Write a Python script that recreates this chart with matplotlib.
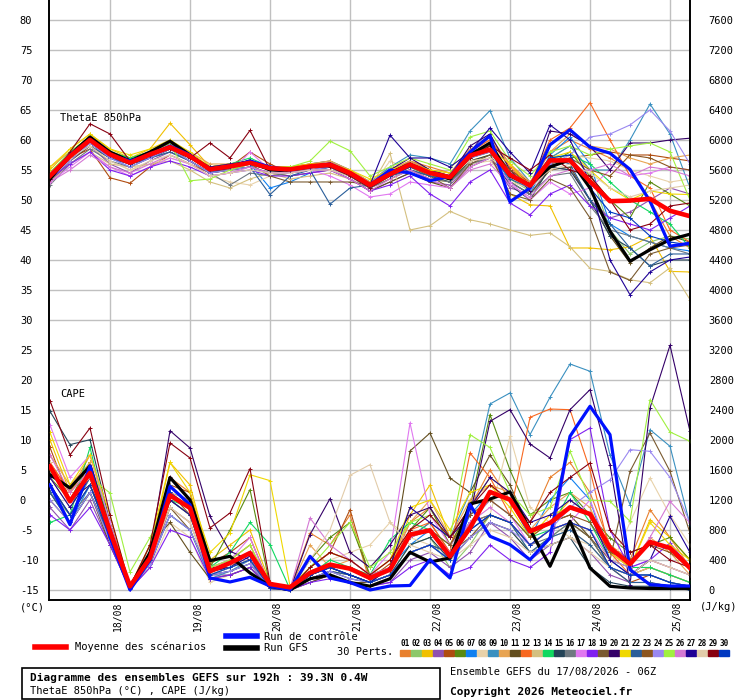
import matplotlib
matplotlib.use("Agg")
import matplotlib.pyplot as plt
import matplotlib.transforms as mtrans
from matplotlib.lines import Line2D
from matplotlib.patches import Rectangle

plt.rcParams['font.family'] = ['DejaVu Sans Mono']

# forecast hours, one point every 6h over 192h
hours = list(range(0, 193, 6))
day_hours = [18, 42, 66, 90, 114, 138, 162, 186]
day_labels = ["18/08", "19/08", "20/08", "21/08", "22/08", "23/08", "24/08", "25/08"]

pert_colors = ["#e8802e", "#8cc86a", "#f0c000", "#9050b0", "#b04c10", "#5a8a10",
               "#1080f0", "#e8d2aa", "#3a90c0", "#e8a452", "#634e1e", "#f86820",
               "#d4c080", "#10d860", "#244458", "#6e7880", "#e078f0", "#8020f0",
               "#7a5a30", "#340068", "#f0d800", "#2a5e9a", "#8c5620", "#9a88f0",
               "#a0f040", "#d478d4", "#1e0096", "#e2ccaa", "#880010", "#0038c0"]

# ThetaE 850hPa (degC)
theta_mean = [54.0, 57.3, 60.0, 57.6, 56.2, 57.6, 58.8, 57.3, 55.1, 55.6, 56.2, 55.3, 55.1, 55.6, 55.9, 54.5,
              52.5, 54.3, 55.9, 54.5, 53.8, 57.4, 58.4, 54.2, 52.4, 56.6, 56.6, 53.1, 49.8, 49.9, 50.2, 48.2, 47.3]
theta_ctrl = [54.0, 57.5, 60.0, 57.5, 56.5, 57.5, 59.0, 57.5, 55.0, 55.5, 56.5, 55.5, 55.0, 55.5, 56.0, 54.5,
              52.5, 55.0, 54.5, 53.2, 54.0, 58.0, 60.7, 49.7, 52.0, 59.2, 61.7, 58.8, 57.8, 55.1, 49.8, 42.3, 42.8]
theta_gfs = [53.5, 57.5, 60.5, 58.0, 56.5, 58.0, 59.8, 57.5, 55.0, 55.5, 56.5, 55.0, 55.0, 55.5, 56.0, 54.5,
             52.5, 54.5, 56.0, 54.5, 53.5, 57.5, 59.5, 54.0, 52.5, 55.5, 56.7, 52.0, 44.8, 39.8, 41.7, 43.4, 44.3]
theta_perts = [
    [53.5, 57.5, 59.5, 57.5, 56.5, 58.0, 59.5, 57.5, 55.5, 56.0, 56.5, 55.5, 55.0, 56.0, 56.5, 55.0, 53.0, 55.0, 56.5, 55.5, 54.5, 58.0, 60.5, 56.0, 52.5, 58.0, 60.0, 58.5, 57.0, 55.0, 50.0, 44.0, 42.0],
    [54.5, 58.0, 60.5, 58.0, 57.0, 58.0, 59.5, 57.0, 55.0, 55.0, 55.5, 54.5, 55.0, 55.5, 56.0, 54.0, 52.0, 54.0, 55.5, 54.0, 53.0, 57.0, 58.0, 53.5, 51.5, 57.0, 59.0, 55.0, 45.0, 41.0, 43.0, 44.0, 43.5],
    [55.0, 58.5, 61.0, 58.5, 57.0, 58.5, 62.8, 59.2, 55.5, 56.0, 56.5, 55.0, 55.0, 55.0, 55.5, 54.0, 52.0, 53.5, 55.0, 53.5, 53.0, 56.5, 57.5, 51.0, 49.2, 49.0, 42.0, 42.0, 41.7, 42.2, 43.9, 38.1, 38.0],
    [53.0, 56.5, 59.0, 56.0, 54.5, 56.5, 58.0, 56.5, 54.5, 55.0, 55.5, 54.5, 54.5, 55.0, 55.0, 53.5, 51.5, 53.0, 54.5, 53.0, 52.5, 56.0, 57.0, 52.0, 51.0, 55.5, 55.0, 50.0, 47.0, 48.0, 50.0, 52.0, 51.0],
    [53.5, 57.0, 58.5, 53.7, 52.8, 55.5, 57.5, 56.0, 54.5, 55.5, 58.0, 56.0, 54.5, 55.0, 55.5, 54.0, 52.0, 54.5, 56.5, 55.0, 53.5, 57.5, 58.5, 55.0, 53.0, 56.0, 57.0, 57.5, 58.0, 57.5, 57.5, 57.0, 56.5],
    [54.0, 57.5, 60.0, 57.5, 56.0, 57.5, 59.0, 57.0, 55.0, 55.5, 56.0, 55.0, 55.0, 55.5, 56.0, 54.5, 52.5, 54.0, 56.0, 54.5, 54.0, 57.5, 59.0, 54.5, 52.0, 56.0, 58.0, 54.0, 50.0, 47.0, 53.0, 51.0, 49.0],
    [53.5, 57.0, 59.5, 57.0, 55.5, 57.0, 58.5, 56.5, 54.5, 55.5, 56.0, 52.0, 53.0, 54.5, 55.5, 54.0, 52.5, 54.5, 56.0, 54.5, 53.5, 57.0, 58.5, 53.0, 51.0, 57.5, 60.5, 56.0, 46.0, 44.0, 43.0, 42.0, 41.5],
    [54.5, 57.5, 59.0, 56.5, 55.0, 56.0, 57.0, 56.0, 54.0, 53.0, 52.5, 54.0, 54.5, 55.0, 55.5, 54.0, 52.0, 56.5, 55.0, 54.0, 53.0, 56.0, 56.5, 53.0, 52.0, 55.0, 57.5, 57.0, 56.5, 55.0, 54.0, 53.0, 53.5],
    [54.0, 57.5, 60.0, 57.5, 56.0, 57.0, 58.5, 57.0, 55.0, 55.5, 56.0, 55.0, 55.5, 56.0, 56.5, 55.0, 53.0, 55.5, 57.5, 57.0, 56.0, 61.5, 64.9, 57.0, 53.0, 57.0, 59.0, 55.0, 55.0, 60.0, 66.0, 61.0, 52.0],
    [55.5, 58.0, 60.5, 58.0, 56.5, 58.0, 59.5, 58.0, 56.0, 56.0, 56.5, 55.5, 55.5, 56.0, 56.5, 55.0, 53.0, 55.0, 56.5, 55.0, 54.5, 58.5, 60.0, 56.0, 53.0, 58.0, 61.0, 59.0, 58.5, 57.0, 56.0, 57.0, 57.5],
    [53.0, 56.5, 59.0, 57.0, 56.0, 57.0, 58.5, 56.5, 54.5, 55.0, 55.5, 54.5, 54.0, 54.5, 55.0, 53.5, 51.5, 53.0, 54.5, 53.0, 52.0, 55.5, 57.0, 53.0, 51.0, 55.0, 55.5, 50.0, 44.0, 39.5, 42.0, 44.0, 43.0],
    [54.0, 57.5, 60.0, 57.5, 56.5, 57.5, 59.0, 57.0, 55.5, 56.0, 56.5, 55.5, 55.5, 56.0, 56.0, 54.5, 52.5, 54.5, 56.0, 55.0, 54.0, 58.0, 60.0, 55.5, 52.5, 60.0, 62.0, 66.2, 60.0, 54.0, 52.0, 45.0, 43.0],
    [53.0, 56.0, 58.0, 56.0, 55.5, 56.0, 56.5, 55.0, 53.0, 52.0, 53.5, 54.5, 53.5, 54.0, 54.5, 53.5, 52.0, 57.8, 45.0, 45.7, 48.1, 46.7, 46.0, 45.0, 44.1, 44.5, 42.2, 38.6, 38.1, 36.7, 36.2, 38.7, 33.4],
    [54.5, 58.0, 60.5, 58.0, 57.0, 58.0, 59.5, 57.5, 55.5, 56.0, 57.0, 55.5, 55.0, 55.5, 56.0, 54.5, 52.5, 54.5, 56.0, 55.0, 54.0, 58.0, 59.0, 54.0, 52.0, 57.0, 57.5, 56.0, 53.0, 50.0, 48.0, 46.0, 42.0],
    [54.0, 57.0, 59.5, 57.5, 56.0, 57.0, 58.5, 57.0, 55.0, 55.5, 56.0, 55.0, 55.0, 55.5, 55.5, 54.0, 52.0, 54.0, 55.0, 54.0, 53.0, 56.5, 57.5, 52.5, 50.0, 55.5, 55.0, 50.0, 44.0, 42.0, 39.0, 40.0, 40.0],
    [52.5, 56.0, 58.5, 56.5, 55.5, 57.0, 58.0, 56.5, 54.5, 52.5, 54.5, 54.0, 54.5, 55.0, 55.0, 54.0, 52.0, 53.5, 55.0, 53.5, 53.0, 56.0, 57.0, 53.0, 51.0, 54.0, 54.5, 49.0, 45.0, 44.0, 43.0, 42.0, 41.0],
    [53.0, 55.5, 58.0, 55.5, 54.0, 55.5, 57.0, 56.0, 54.0, 54.5, 58.0, 55.0, 54.5, 55.0, 54.0, 52.5, 50.5, 51.0, 53.0, 52.5, 52.0, 55.5, 57.0, 53.0, 50.0, 53.0, 51.0, 52.0, 55.0, 54.0, 54.5, 55.5, 55.0],
    [53.5, 56.0, 58.0, 55.0, 54.0, 55.5, 56.5, 55.5, 54.0, 54.5, 55.0, 54.0, 54.0, 54.5, 55.0, 53.5, 51.5, 52.5, 54.0, 51.0, 49.0, 53.0, 55.0, 49.5, 47.5, 51.0, 52.5, 49.0, 47.0, 46.0, 45.0, 47.0, 49.0],
    [54.5, 57.5, 60.5, 58.0, 56.5, 58.0, 59.5, 57.5, 55.5, 55.5, 56.0, 54.0, 53.0, 53.0, 53.0, 53.0, 52.5, 54.0, 55.5, 54.0, 52.0, 56.0, 57.5, 51.0, 50.0, 53.5, 52.0, 47.0, 38.0, 36.6, 41.0, 42.0, 42.5],
    [53.5, 57.0, 59.5, 57.0, 56.0, 57.0, 58.5, 57.0, 55.0, 55.5, 56.0, 55.0, 54.5, 55.0, 55.5, 54.0, 52.5, 55.0, 57.0, 55.0, 54.0, 59.0, 61.0, 55.0, 51.5, 61.5, 61.0, 59.0, 55.0, 59.5, 59.5, 60.0, 60.3],
    [55.5, 58.5, 61.0, 58.5, 57.5, 58.5, 60.0, 58.0, 55.5, 56.0, 56.5, 55.5, 55.5, 56.0, 56.0, 55.0, 53.5, 55.0, 56.0, 55.0, 54.5, 57.5, 58.5, 56.0, 52.0, 57.0, 58.0, 55.0, 52.0, 50.0, 51.5, 51.0, 50.9],
    [54.0, 57.0, 59.0, 57.0, 56.0, 57.0, 58.0, 56.5, 54.5, 55.0, 55.5, 50.9, 54.0, 55.0, 49.3, 52.0, 52.5, 54.0, 55.0, 54.0, 53.5, 57.0, 58.0, 53.5, 52.0, 57.0, 56.0, 50.0, 46.0, 42.0, 39.0, 41.0, 41.0],
    [54.0, 57.5, 60.0, 57.5, 56.0, 57.5, 58.5, 57.0, 55.0, 55.0, 56.0, 55.0, 55.0, 55.5, 56.0, 54.5, 52.5, 54.5, 56.0, 54.5, 53.5, 57.5, 59.0, 55.0, 52.5, 56.0, 57.0, 55.0, 54.0, 57.5, 57.0, 55.5, 55.0],
    [53.5, 56.5, 59.5, 57.0, 55.5, 57.0, 58.5, 56.5, 54.5, 55.0, 55.5, 54.5, 54.5, 55.0, 55.5, 54.0, 52.0, 54.0, 55.5, 54.5, 53.5, 57.0, 58.0, 54.0, 52.0, 56.0, 57.5, 60.5, 61.0, 62.5, 65.0, 61.5, 56.0],
    [54.5, 58.0, 60.5, 58.0, 56.5, 58.0, 59.5, 53.2, 53.5, 55.0, 56.0, 55.5, 55.5, 56.5, 59.8, 58.2, 54.0, 55.5, 57.0, 56.0, 55.0, 60.5, 61.5, 56.5, 54.0, 58.0, 59.0, 57.5, 58.5, 59.0, 59.5, 58.0, 50.0],
    [53.0, 55.0, 57.5, 55.5, 54.5, 56.0, 57.5, 56.0, 54.0, 54.5, 55.5, 54.5, 54.5, 55.0, 55.0, 53.5, 51.5, 53.5, 55.0, 53.5, 52.0, 55.0, 56.0, 52.5, 50.5, 54.0, 55.0, 55.0, 56.0, 54.0, 55.5, 55.0, 54.0],
    [54.0, 57.5, 60.0, 57.5, 56.0, 57.5, 59.0, 57.5, 55.5, 56.0, 56.5, 55.5, 55.0, 55.5, 56.0, 54.5, 52.5, 60.8, 57.0, 57.0, 55.5, 58.0, 62.0, 58.0, 54.5, 62.5, 60.0, 53.0, 40.0, 34.2, 38.0, 40.0, 40.5],
    [54.5, 57.0, 59.0, 56.5, 55.0, 56.5, 57.5, 56.0, 54.0, 54.5, 55.0, 54.5, 54.5, 55.0, 55.0, 54.0, 52.5, 54.5, 55.5, 54.5, 54.0, 56.5, 57.0, 54.5, 52.5, 55.0, 56.0, 54.5, 52.0, 50.5, 51.5, 52.0, 52.5],
    [53.5, 58.0, 62.7, 61.0, 56.5, 57.5, 58.5, 57.0, 59.5, 57.0, 61.6, 55.0, 55.0, 55.5, 55.5, 54.0, 52.0, 54.0, 55.5, 54.5, 53.5, 57.0, 59.0, 57.0, 55.0, 57.5, 55.0, 54.0, 50.0, 45.0, 46.0, 49.0, 49.5],
    [54.0, 57.5, 60.0, 57.5, 56.0, 57.5, 59.0, 57.5, 55.0, 55.5, 56.0, 55.0, 55.0, 55.5, 56.0, 54.5, 52.5, 54.0, 55.5, 54.5, 53.5, 57.5, 58.5, 54.5, 52.5, 57.0, 57.5, 52.0, 48.0, 47.0, 44.0, 43.0, 42.5],
]

# CAPE (J/kg)
cape_mean = [1649, 1182, 1560, 782, 49, 427, 1262, 1093, 249, 360, 493, 80, 36, 227, 338, 284,
             160, 271, 738, 796, 449, 827, 1307, 1204, 782, 893, 1102, 1013, 560, 347, 640, 560, 293]
cape_ctrl = [1404, 871, 1653, 700, 0, 400, 1382, 1138, 160, 107, 169, 53, 0, 449, 160, 100,
             0, 53, 60, 404, 160, 1138, 716, 604, 404, 693, 2049, 2449, 2071, 271, 71, 53, 53]
cape_gfs = [1537, 1360, 1653, 770, 40, 500, 1500, 1200, 391, 449, 227, 50, 0, 150, 200, 100,
            50, 150, 502, 373, 427, 1147, 1213, 1307, 804, 316, 916, 293, 49, 27, 20, 20, 20]
cape_perts = [
    [1700, 1300, 1800, 900, 30, 500, 1500, 1300, 300, 400, 600, 50, 20, 760, 600, 1000, 100, 300, 900, 1100, 600, 1100, 1600, 1200, 900, 1500, 1700, 1300, 600, 400, 1071, 700, 300],
    [1300, 1000, 1500, 700, 20, 400, 1300, 1100, 200, 300, 400, 30, 0, 200, 300, 200, 100, 200, 600, 700, 300, 600, 1000, 900, 500, 700, 900, 700, 300, 200, 300, 200, 100],
    [2000, 1300, 1700, 900, 40, 500, 1700, 1400, 400, 600, 800, 100, 20, 300, 500, 400, 200, 300, 1000, 1400, 700, 1100, 1500, 1300, 700, 900, 1200, 1000, 500, 300, 938, 700, 400],
    [1100, 800, 1200, 600, 10, 300, 1100, 900, 200, 200, 300, 20, 0, 100, 200, 100, 50, 100, 400, 500, 300, 500, 900, 700, 400, 600, 700, 500, 200, 100, 100, 50, 0],
    [1900, 1200, 1600, 800, 30, 450, 1400, 1300, 350, 500, 700, 60, 10, 300, 500, 1071, 150, 350, 700, 900, 500, 900, 1000, 900, 600, 800, 900, 800, 300, 100, 200, 100, 50],
    [1500, 1200, 1700, 850, 30, 500, 1500, 1200, 300, 800, 1338, 60, 10, 400, 700, 900, 200, 300, 800, 1100, 600, 1100, 2338, 1600, 1000, 1200, 1300, 1000, 693, 500, 600, 700, 400],
    [1300, 900, 1400, 700, 20, 400, 1200, 1000, 200, 300, 500, 30, 0, 200, 300, 200, 100, 300, 600, 800, 400, 1000, 1300, 1200, 700, 1200, 1500, 1200, 400, 200, 200, 100, 50],
    [1600, 1300, 1600, 800, 50, 300, 900, 700, 100, 200, 300, 30, 0, 200, 400, 500, 600, 900, 700, 600, 500, 800, 1000, 2049, 1100, 900, 700, 600, 300, 900, 1493, 1000, 600],
    [1400, 1000, 1500, 750, 20, 350, 1000, 800, 150, 250, 400, 20, 0, 150, 250, 150, 100, 300, 700, 900, 700, 1300, 2480, 2627, 2071, 2569, 3013, 2916, 1800, 1138, 2138, 1916, 871],
    [1800, 1400, 1700, 850, 40, 500, 1300, 1200, 300, 400, 600, 50, 10, 600, 300, 400, 200, 400, 900, 1200, 700, 1200, 1400, 1300, 800, 1100, 1300, 1100, 500, 300, 700, 500, 200],
    [1200, 900, 1300, 600, 20, 600, 900, 500, 150, 200, 300, 20, 0, 100, 200, 100, 100, 200, 1853, 2093, 1493, 1300, 1800, 1400, 800, 900, 1000, 700, 300, 200, 400, 300, 200],
    [1700, 1300, 1600, 800, 30, 450, 1300, 1100, 250, 350, 500, 40, 10, 250, 350, 300, 150, 300, 800, 900, 500, 1827, 1500, 1000, 2302, 2413, 2404, 1600, 500, 200, 300, 200, 100],
    [1500, 1100, 1500, 700, 20, 400, 1100, 900, 200, 300, 400, 30, 0, 200, 300, 200, 100, 200, 500, 600, 400, 700, 900, 800, 500, 700, 800, 600, 300, 200, 300, 200, 100],
    [900, 1000, 1900, 800, 40, 400, 1200, 1100, 300, 500, 900, 604, 10, 200, 400, 300, 200, 671, 900, 800, 600, 900, 1200, 1000, 700, 800, 1300, 900, 400, 300, 300, 200, 100],
    [2382, 1938, 2004, 900, 40, 500, 1200, 1000, 300, 300, 400, 30, 0, 200, 300, 200, 100, 200, 600, 700, 400, 700, 900, 800, 500, 600, 700, 300, 100, 50, 50, 30, 0],
    [1400, 1000, 1300, 700, 20, 400, 1400, 1100, 250, 300, 400, 30, 0, 150, 250, 150, 100, 200, 500, 600, 400, 900, 1000, 900, 600, 700, 900, 700, 300, 200, 200, 100, 50],
    [2200, 1500, 1800, 900, 40, 500, 1500, 1200, 300, 400, 700, 40, 10, 300, 500, 400, 200, 500, 2227, 1000, 600, 900, 1200, 1000, 600, 800, 900, 1200, 500, 300, 400, 300, 200],
    [1000, 800, 1100, 600, 10, 300, 800, 700, 150, 200, 300, 20, 0, 100, 150, 100, 50, 100, 300, 400, 200, 300, 600, 400, 300, 500, 2004, 2160, 800, 300, 400, 627, 300],
    [1300, 900, 1300, 650, 20, 400, 1100, 800, 200, 250, 350, 30, 0, 150, 250, 200, 100, 200, 500, 600, 500, 700, 1000, 900, 600, 800, 900, 700, 400, 1582, 2093, 1582, 760],
    [1600, 1200, 1400, 800, 30, 500, 2124, 1893, 982, 516, 400, 40, 0, 738, 1218, 500, 300, 600, 1000, 1100, 700, 1000, 2249, 2404, 1947, 1760, 2404, 2671, 1671, 71, 2427, 3262, 2116],
    [2100, 1400, 1800, 1000, 50, 600, 1700, 1300, 500, 760, 1537, 1458, 53, 300, 500, 400, 200, 400, 1100, 1200, 800, 1300, 1400, 1100, 700, 1000, 1100, 1000, 500, 300, 900, 600, 400],
    [1300, 900, 1300, 700, 20, 350, 1000, 800, 200, 250, 350, 20, 0, 150, 250, 200, 100, 200, 500, 600, 500, 800, 1000, 900, 500, 700, 800, 600, 300, 100, 100, 50, 0],
    [1400, 1000, 1400, 700, 20, 400, 1300, 1000, 250, 300, 500, 30, 0, 200, 300, 300, 150, 300, 700, 800, 600, 1000, 1200, 1000, 700, 900, 1000, 900, 500, 400, 600, 500, 300],
    [1200, 900, 1300, 650, 20, 350, 1000, 800, 200, 250, 350, 30, 0, 150, 250, 150, 100, 200, 500, 600, 400, 700, 900, 800, 600, 800, 1100, 1300, 1471, 1871, 1849, 1500, 900],
    [1600, 1200, 1500, 1293, 240, 700, 1200, 1000, 300, 400, 600, 50, 10, 300, 600, 900, 300, 500, 900, 1000, 700, 2071, 1900, 1300, 1000, 1100, 1849, 1200, 1182, 916, 2538, 2107, 1982],
    [1800, 1300, 1600, 800, 30, 450, 1300, 1100, 250, 350, 500, 40, 10, 960, 600, 400, 200, 300, 700, 800, 500, 900, 1100, 900, 600, 800, 900, 800, 400, 300, 700, 1182, 893],
    [1500, 1100, 1500, 750, 25, 400, 1200, 1000, 250, 300, 450, 30, 0, 200, 300, 200, 100, 300, 1100, 900, 700, 1100, 1500, 1300, 900, 1000, 1200, 1000, 400, 200, 400, 982, 500],
    [1700, 1200, 1500, 750, 30, 400, 1100, 900, 200, 300, 400, 30, 0, 400, 800, 1529, 1671, 900, 600, 500, 400, 600, 800, 700, 500, 600, 700, 500, 300, 200, 400, 300, 200],
    [2524, 1800, 2160, 1000, 50, 600, 1960, 1760, 827, 1027, 1618, 100, 20, 300, 500, 400, 200, 400, 800, 1000, 700, 1100, 1400, 1200, 900, 1300, 1500, 1693, 800, 500, 600, 400, 300],
    [1400, 1000, 1400, 700, 20, 400, 1300, 1100, 200, 300, 400, 30, 0, 200, 300, 200, 100, 200, 500, 600, 400, 800, 1000, 900, 600, 800, 900, 800, 300, 200, 200, 100, 50],
]

W, H = 740, 700
fig = plt.figure(figsize=(W / 100, H / 100), dpi=100)

def fx(px):
    return px / W

def fy(py):
    return 1 - py / H

ax = fig.add_axes([fx(49), fy(600), fx(690) - fx(49), fy(0) - fy(600)])
t_lo, t_hi = -0.3, 192
th_lo, th_hi = -16.67, 83.33
ax.set_xlim(t_lo, t_hi)
ax.set_ylim(th_lo, th_hi)

ax2 = ax.twinx()
ax2.set_ylim((th_lo + 15) * 80, (th_hi + 15) * 80)

grid_c = "#c0c0c0"
for v in range(-15, 81, 5):
    ax.axhline(v, color=grid_c, lw=1, zorder=0)
for d in day_hours:
    ax.axvline(d, color=grid_c, lw=1, zorder=0)

for axis in (ax, ax2):
    axis.spines['top'].set_visible(False)
    for s in ('left', 'right', 'bottom'):
        axis.spines[s].set_color("black")
        axis.spines[s].set_linewidth(1.2)
    axis.tick_params(length=0)

ax.set_xticks([])
ax.set_yticks(range(-15, 81, 5))
ax.set_yticklabels([str(v) for v in range(-15, 81, 5)], fontsize=7.5, ha='left')
ax.tick_params(axis='y', pad=21)
ax2.set_yticks(range(0, 7601, 400))
ax2.set_yticklabels([str(v) for v in range(0, 7601, 400)], fontsize=7.5)
ax2.tick_params(axis='y', pad=13.5)

mk = dict(marker='+', markersize=3, markeredgewidth=0.7)
for i, c in enumerate(pert_colors):
    ax.plot(hours, theta_perts[i], color=c, lw=0.8, zorder=2, **mk)
    ax2.plot(hours, cape_perts[i], color=c, lw=0.8, zorder=2, **mk)

ax.plot(hours, theta_gfs, color="black", lw=2.3, zorder=3)
ax.plot(hours, theta_ctrl, color="#0010ff", lw=2.3, zorder=4)
ax.plot(hours, theta_mean, color="#ff0000", lw=3.3, zorder=5)
ax2.plot(hours, cape_gfs, color="black", lw=2.3, zorder=3)
ax2.plot(hours, cape_ctrl, color="#0010ff", lw=2.3, zorder=4)
ax2.plot(hours, cape_mean, color="#ff0000", lw=3.3, zorder=5)

fig.text(fx(60), fy(118), "ThetaE 850hPa", fontsize=7.5, va='center')
fig.text(fx(60), fy(394), "CAPE", fontsize=7.5, va='center')

# day labels, rotated, just right of the gridlines
off = mtrans.ScaledTranslation(0.075, -0.02, fig.dpi_scale_trans)
trans = mtrans.blended_transform_factory(ax.transData, ax.transAxes) + off
for d, lab in zip(day_hours, day_labels):
    ax.text(d, 0, lab, transform=trans, rotation=90, ha='center', va='top', fontsize=7)

fig.text(fx(20), fy(607), "(°C)", fontsize=7.5, va='center')
fig.text(fx(700), fy(607), "(J/kg)", fontsize=7.5, va='center')

# legend
fig.add_artist(Line2D([fx(35), fx(66)], [fy(647), fy(647)], color="#ff0000", lw=4))
fig.text(fx(75), fy(647), "Moyenne des scénarios", fontsize=7.5, va='center')
fig.add_artist(Line2D([fx(226), fx(257)], [fy(636), fy(636)], color="#0010ff", lw=4))
fig.text(fx(264), fy(637), "Run de contrôle", fontsize=7.5, va='center')
fig.add_artist(Line2D([fx(226), fx(257)], [fy(648), fy(648)], color="black", lw=4))
fig.text(fx(264), fy(648), "Run GFS", fontsize=7.5, va='center')
fig.text(fx(393), fy(652), "30 Perts.", fontsize=7.5, va='center', ha='right')
for i, c in enumerate(pert_colors):
    x0 = 400 + i * 11
    fig.add_artist(Rectangle((fx(x0), fy(656)), fx(10), fy(650) - fy(656), color=c,
                             transform=fig.transFigure))
    fig.text(fx(x0 + 5), fy(643), "%02d" % (i + 1), fontsize=5.5, ha='center', va='center',
             fontweight='bold')

# title box
fig.add_artist(Rectangle((fx(22), fy(699)), fx(440) - fx(22), fy(668) - fy(699), fill=False,
                         edgecolor="black", lw=1.2, transform=fig.transFigure))
fig.text(fx(30), fy(678), "Diagramme des ensembles GEFS sur 192h : 39.3N 0.4W", fontsize=8,
         fontweight='bold', va='center')
fig.text(fx(30), fy(691), "ThetaE 850hPa (°C) , CAPE (J/kg)", fontsize=7.5, va='center')
fig.text(fx(450), fy(672), "Ensemble GEFS du 17/08/2026 - 06Z", fontsize=7.5, va='center')
fig.text(fx(450), fy(692), "Copyright 2026 Meteociel.fr", fontsize=8, fontweight='bold',
         va='center')

fig.savefig("out.png", dpi=100)
